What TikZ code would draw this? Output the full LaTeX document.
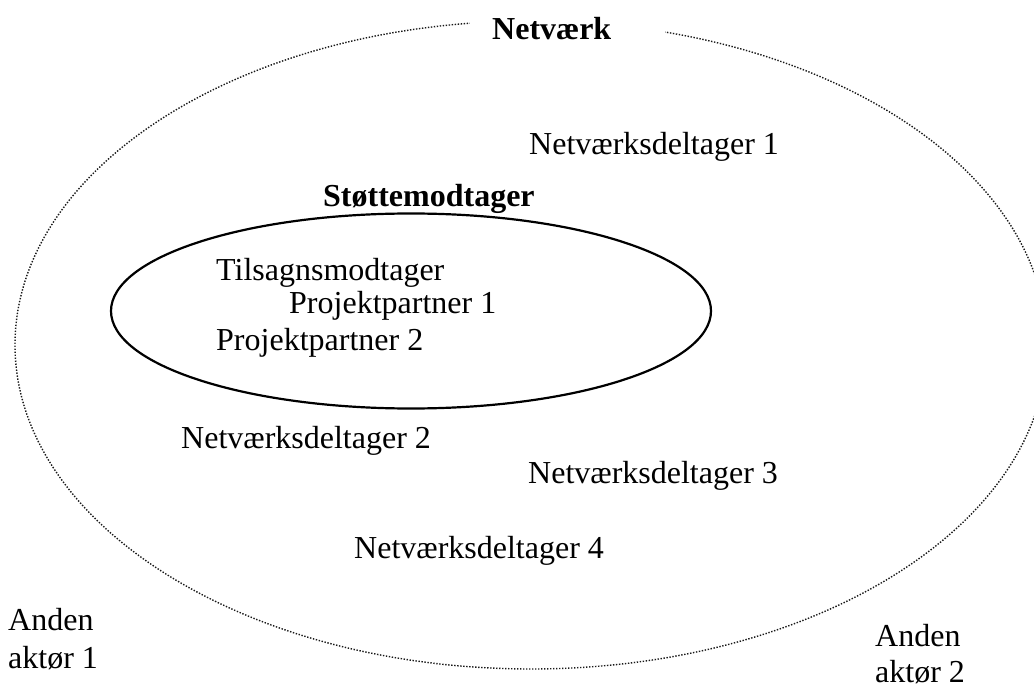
\documentclass[tikz,border=0pt]{standalone}
\usepackage{fontspec}
\setmainfont{Liberation Serif}
\begin{document}
\begin{tikzpicture}[x=1pt,y=-1pt,
  txt/.style={inner sep=0pt, anchor=base west, font=\fontsize{32}{38}\selectfont},
  boldtxt/.style={txt, font=\fontsize{32}{38}\selectfont\bfseries},
  outerline/.style={line width=1.4pt, dash pattern=on 1.4pt off 1.6pt, draw=black!90},
  innerline/.style={line width=2.2pt, draw=black}]
\useasboundingbox (0,0) rectangle (1034,687);
\clip (0,0) rectangle (1034,687);
% outer network ellipse (dotted)
\draw[outerline] (531,345) ellipse [x radius=516, y radius=324];
\fill[white] (470,8) rectangle (665,56);
% inner ellipse
\draw[innerline] (411,311) ellipse [x radius=300, y radius=97.5];
\fill[white] (299,209) rectangle (301.5,218);
\fill[white] (614,209) rectangle (616.5,220);
% labels
\node[boldtxt] (netvaerk) at (492,40) {Netværk};
\node[txt] (nd1) at (529,155) {Netværksdeltager 1};
\node[boldtxt] (stoette) at (323,207) {Støttemodtager};
\node[txt] (tilsagn) at (216,281) {Tilsagnsmodtager};
\node[txt] (pp1) at (289,313) {Projektpartner 1};
\node[txt] (pp2) at (216,350) {Projektpartner 2};
\node[txt] (nd2) at (181,448) {Netværksdeltager 2};
\node[txt] (nd3) at (528,483) {Netværksdeltager 3};
\node[txt] (nd4) at (354,558) {Netværksdeltager 4};
\node[txt] (a1a) at (8,630) {Anden};
\node[txt] (a1b) at (8,668) {aktør 1};
\node[txt] (a2a) at (875,646) {Anden};
\node[txt] (a2b) at (875,682) {aktør 2};
\end{tikzpicture}
\end{document}
